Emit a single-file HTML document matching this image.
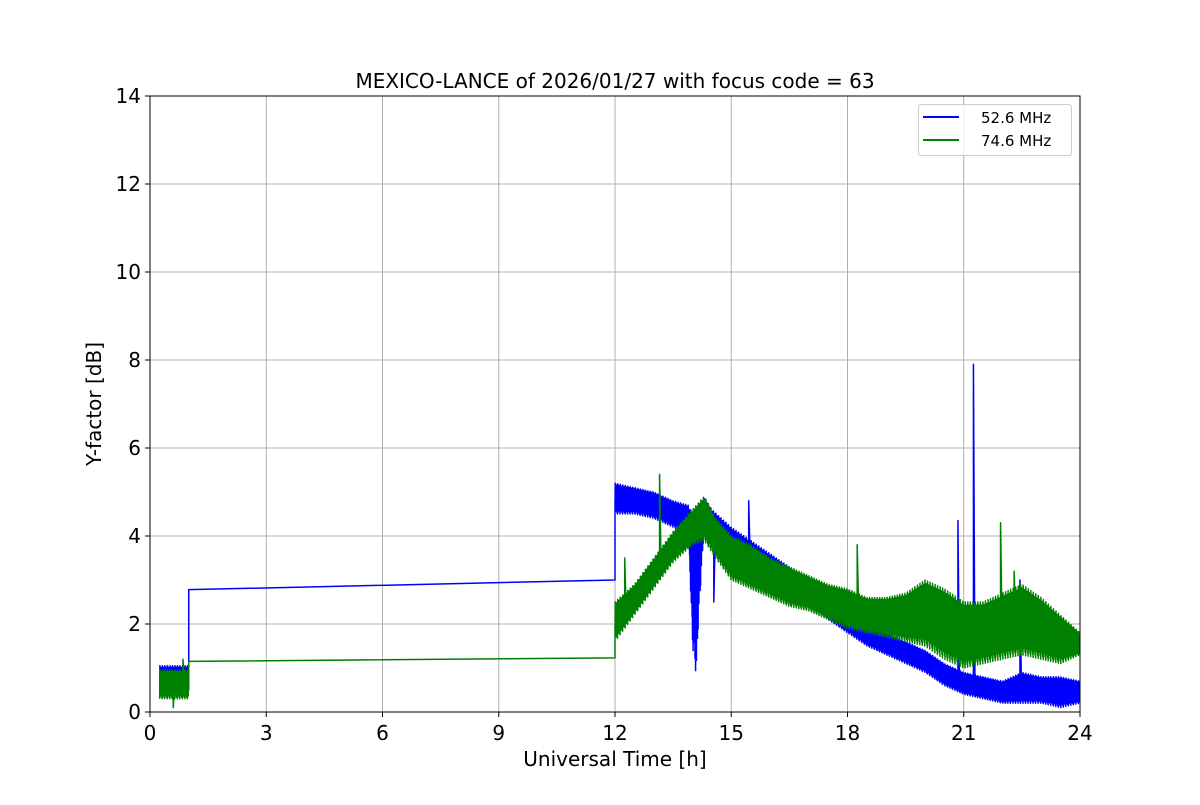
<!DOCTYPE html>
<html><head><meta charset="utf-8"><style>
body{margin:0;background:#fff}
svg text{font-family:"DejaVu Sans","Liberation Sans",sans-serif}
</style></head><body>
<svg id="chart" width="1200" height="800" xmlns="http://www.w3.org/2000/svg">
<rect width="1200" height="800" fill="#fff"/>
<g id="grid"></g>
<g id="series"></g>
<rect x="150" y="96" width="930" height="616" fill="none" stroke="#000" stroke-width="1"/>
<g id="ticks"></g>
<text x="615" y="88" font-size="20" text-anchor="middle">MEXICO-LANCE of 2026/01/27 with focus code = 63</text>
<text x="615" y="766" font-size="20" text-anchor="middle">Universal Time [h]</text>
<text x="101" y="404" font-size="20" text-anchor="middle" transform="rotate(-90 101 404)">Y-factor [dB]</text>
<g>
<rect x="918.5" y="104.5" width="153" height="51" rx="3" fill="#fff" fill-opacity="0.8" stroke="#ccc"/>
<g><line x1="923" y1="117" x2="959" y2="117" stroke="#0000ff" stroke-width="2"/><text x="981" y="123" font-size="15">52.6 MHz</text></g>
<g><line x1="923" y1="140" x2="959" y2="140" stroke="#008000" stroke-width="2"/><text x="981" y="146" font-size="15">74.6 MHz</text></g>
</g>
</svg>
<script>
const xTicks=[0,3,6,9,12,15,18,21,24];
const yTicks=[0,2,4,6,8,10,12,14];
// blue 52.6 MHz
const blueEarlyT=[0.25,1.0]; const blueEarlyLo=[0.35,0.35]; const blueEarlyHi=[1.05,1.05];
const blueFlatT=[1.0,1.0,12.0,12.0]; const blueFlatV=[0.9,2.78,3.0,4.8];
const blueT=[12,12.5,13,13.5,13.9,14.0,14.1,14.15,14.3,14.5,15,15.5,16,16.5,17,17.5,18,18.5,19,19.5,20,20.5,21,21.5,22,22.5,23,23.5,24];
const blueLo=[4.5,4.5,4.4,4.2,4.0,1.5,0.8,2.0,4.2,3.8,3.4,3.0,2.8,2.6,2.4,2.1,1.8,1.5,1.3,1.1,0.9,0.6,0.4,0.3,0.2,0.2,0.2,0.1,0.2];
const blueHi=[5.2,5.1,5.0,4.8,4.7,4.5,4.5,4.6,4.9,4.6,4.2,3.9,3.6,3.3,3.0,2.6,2.3,2.0,1.8,1.6,1.4,1.1,0.9,0.8,0.7,0.9,0.8,0.8,0.7];
const blueSpikeT=[14.55,15.45,20.85,21.25,22.45];
const blueSpikeV=[2.5,4.8,4.35,7.9,3.0];
// green 74.6 MHz
const greenEarlyT=[0.25,1.0]; const greenEarlyLo=[0.3,0.3]; const greenEarlyHi=[0.95,0.95];
const greenFlatT=[1.0,1.0,12.0,12.0]; const greenFlatV=[0.5,1.15,1.23,2.0];
const greenT=[12,12.5,13,13.5,14,14.3,14.6,15,15.5,16,16.5,17,17.5,18,18.5,19,19.5,20,20.5,21,21.5,22,22.5,23,23.5,24];
const greenLo=[1.6,2.2,2.8,3.4,3.8,3.9,3.5,3.0,2.8,2.6,2.4,2.3,2.1,1.9,1.8,1.7,1.6,1.5,1.2,1.0,1.1,1.2,1.3,1.2,1.1,1.3];
const greenHi=[2.5,2.9,3.5,4.1,4.6,4.9,4.4,4.0,3.8,3.5,3.3,3.1,2.9,2.8,2.6,2.6,2.7,3.0,2.8,2.5,2.5,2.7,2.9,2.6,2.2,1.8];
const greenSpikeT=[0.6,0.85,12.25,13.15,18.25,21.95,22.3];
const greenSpikeV=[0.1,1.2,3.5,5.4,3.8,4.3,3.2];

const X=t=>150+t/24*930, Y=v=>712-v/14*616;
const NS="http://www.w3.org/2000/svg";
function mk(tag,attrs,parent){const e=document.createElementNS(NS,tag);for(const k in attrs)e.setAttribute(k,attrs[k]);parent.appendChild(e);return e;}
const grid=document.getElementById('grid'),ticks=document.getElementById('ticks'),series=document.getElementById('series');
xTicks.forEach(t=>{
 const l=mk('line',{x1:X(t),x2:X(t),y1:96,y2:712,stroke:'#b0b0b0','stroke-width':1},grid);
 
 
 mk('line',{x1:X(t),x2:X(t),y1:712,y2:717,stroke:'#000'},ticks);
 const tx=mk('text',{x:X(t),y:740,'font-size':20,'text-anchor':'middle'},ticks);tx.textContent=t;
 
 
});
yTicks.forEach(v=>{
 const l=mk('line',{x1:150,x2:1080,y1:Y(v),y2:Y(v),stroke:'#b0b0b0','stroke-width':1},grid);
 
 
 mk('line',{x1:145,x2:150,y1:Y(v),y2:Y(v),stroke:'#000'},ticks);
 const tx=mk('text',{x:141,y:Y(v)+7,'font-size':20,'text-anchor':'end'},ticks);tx.textContent=v;
 
 
});
// drawing pattern: fraction of envelope reached by successive samples (style only)
const reach=[0,1,0.25,0.8,0.1,0.6,0.35,0.95,0.15,0.7,0.05,0.9,0.45];
function band(T,Lo,Hi,step){
 const pts=[];let k=0;
 for(let i=0;i<T.length-1;i++){
  const n=Math.max(2,Math.round((T[i+1]-T[i])/step));
  for(let j=0;j<n;j++){const f=j/n;const t=T[i]+f*(T[i+1]-T[i]);
   const lo=Lo[i]+f*(Lo[i+1]-Lo[i]),hi=Hi[i]+f*(Hi[i+1]-Hi[i]);
   const v=lo+reach[k%reach.length]*(hi-lo);k++;
   pts.push(X(t).toFixed(1)+','+Y(v).toFixed(1));}
 }
 return pts;
}
function draw(color,name,eT,eLo,eHi,fT,fV,T,Lo,Hi,sT,sV){
 const g=mk('g',{},series);
 
 
 const a=band(eT,eLo,eHi,0.005);
 const b=fT.map((t,i)=>X(t)+','+Y(fV[i]));
 const c=band(T,Lo,Hi,0.005);
 let d='M'+a.concat(b,c).join(' L');
 sT.forEach((t,i)=>{
  let base;
  if(t<T[0]){base=(eLo[0]+eHi[0])/2;}
  else{let j=0;while(j<T.length-2&&T[j+1]<t)j++;
  const f=(t-T[j])/(T[j+1]-T[j]);base=(Lo[j]+f*(Lo[j+1]-Lo[j])+Hi[j]+f*(Hi[j+1]-Hi[j]))/2;}
  d+=' M'+X(t)+','+Y(base)+' L'+X(t)+','+Y(sV[i])+' L'+(X(t)+1.5)+','+Y(base);
 });
 mk('path',{d:d,fill:'none',stroke:color,'stroke-width':1.5,'stroke-linejoin':'round'},g);
}
draw('#0000ff','series-52.6-mhz',blueEarlyT,blueEarlyLo,blueEarlyHi,blueFlatT,blueFlatV,blueT,blueLo,blueHi,blueSpikeT,blueSpikeV);
draw('#008000','series-74.6-mhz',greenEarlyT,greenEarlyLo,greenEarlyHi,greenFlatT,greenFlatV,greenT,greenLo,greenHi,greenSpikeT,greenSpikeV);
</script>
</body></html>
